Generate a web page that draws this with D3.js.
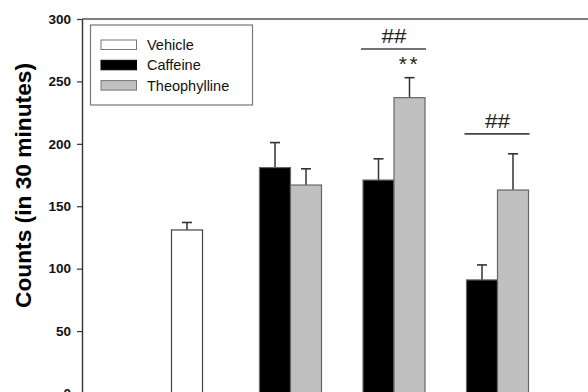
<!DOCTYPE html>
<html>
<head>
<meta charset="utf-8">
<script src="https://cdnjs.cloudflare.com/ajax/libs/d3/7.8.5/d3.min.js"></script>
<style>
  html, body { margin: 0; padding: 0; background: #fff; }
  svg { display: block; font-family: Arial, "Liberation Sans", sans-serif; }
</style>
</head>
<body>
<script>
// data
var groups = [1, 2, 3, 4];
var vehicle = [131, null, null, null];
var vehicleErr = [6, null, null, null];
var caffeine = [null, 181, 171, 91];
var caffeineErr = [null, 20, 17, 12];
var theophylline = [null, 167, 237, 163];
var theophyllineErr = [null, 13, 16, 29];
var yTicks = [0, 50, 100, 150, 200, 250, 300];
var seriesNames = ["Vehicle", "Caffeine", "Theophylline"];
var seriesColors = ["#ffffff", "#000000", "#c0c0c0"];
// significance marks: group, y value, text, line?
var marks = [
  { group: 3, value: 276, text: "##", line: true },
  { group: 3.15, value: 268, text: "**", line: false },
  { group: 4, value: 208, text: "##", line: true }
];

var width = 588, height = 392;
var svg = d3.select("body").append("svg")
    .attr("width", width).attr("height", height);

var y = d3.scaleLinear().domain([0, 300]).range([393.5, 19]);
var x = d3.scaleLinear().domain([1, 4]).range([187, 497.5]);
var barW = 31;
var axisX = 82;

// frame: left axis line + top line
svg.append("line")
  .attr("x1", axisX).attr("x2", width)
  .attr("y1", y(300)).attr("y2", y(300))
  .attr("stroke", "#555").attr("stroke-width", 1.6);

var yAxis = d3.axisLeft(y).tickValues(yTicks).tickSize(5).tickSizeOuter(0).tickPadding(6);
var gy = svg.append("g")
  .attr("transform", "translate(" + axisX + ",0)")
  .call(yAxis);
gy.select(".domain").attr("stroke", "#333").attr("stroke-width", 1.4);
gy.selectAll(".tick line").attr("stroke", "#333").attr("stroke-width", 1.2);
gy.selectAll(".tick text")
  .attr("font-size", 13.5).attr("font-weight", "bold").attr("fill", "#111")
  .attr("font-family", "Arial, 'Liberation Sans', sans-serif");

svg.append("text")
  .attr("transform", "translate(31," + 185.5 + ") rotate(-90)")
  .attr("text-anchor", "middle")
  .attr("font-size", 21.5).attr("font-weight", "bold")
  .attr("textLength", 245).attr("lengthAdjust", "spacingAndGlyphs")
  .text("Counts (in 30 minutes)");

// build bar rows
var bars = [];
groups.forEach(function(g, i) {
  if (vehicle[i] != null) bars.push({ x: x(g) - barW / 2, v: vehicle[i], e: vehicleErr[i], s: 0 });
  if (caffeine[i] != null) bars.push({ x: x(g) - barW, v: caffeine[i], e: caffeineErr[i], s: 1 });
  if (theophylline[i] != null) bars.push({ x: x(g), v: theophylline[i], e: theophyllineErr[i], s: 2 });
});

// error bars (upper only)
var eb = svg.selectAll("g.err").data(bars).enter().append("g").attr("class", "err");
eb.append("line")
  .attr("x1", function(d) { return d.x + barW / 2; })
  .attr("x2", function(d) { return d.x + barW / 2; })
  .attr("y1", function(d) { return y(d.v); })
  .attr("y2", function(d) { return y(d.v + d.e); })
  .attr("stroke", "#333").attr("stroke-width", 1.5);
eb.append("line")
  .attr("x1", function(d) { return d.x + barW / 2 - 5; })
  .attr("x2", function(d) { return d.x + barW / 2 + 5; })
  .attr("y1", function(d) { return y(d.v + d.e); })
  .attr("y2", function(d) { return y(d.v + d.e); })
  .attr("stroke", "#333").attr("stroke-width", 1.6);

svg.selectAll("rect.bar").data(bars).enter().append("rect")
  .attr("class", "bar")
  .attr("x", function(d) { return d.x; })
  .attr("y", function(d) { return y(d.v); })
  .attr("width", barW)
  .attr("height", function(d) { return y(0) - y(d.v); })
  .attr("fill", function(d) { return seriesColors[d.s]; })
  .attr("stroke", function(d) { return d.s == 0 ? "#444" : "#666"; })
  .attr("stroke-width", 1.2);

// significance marks
marks.forEach(function(m) {
  if (m.line) {
    svg.append("line")
      .attr("x1", x(m.group) - 33).attr("x2", x(m.group) + 32)
      .attr("y1", y(m.value)).attr("y2", y(m.value))
      .attr("stroke", "#444").attr("stroke-width", 1.6);
    svg.append("text")
      .attr("x", x(m.group)).attr("y", y(m.value) - 6)
      .attr("text-anchor", "middle")
      .attr("font-size", 20).attr("fill", "#222")
      .attr("textLength", 25).attr("lengthAdjust", "spacingAndGlyphs")
      .text(m.text);
  } else {
    svg.append("text")
      .attr("x", x(m.group)).attr("y", y(m.value) + 12)
      .attr("text-anchor", "middle")
      .attr("font-size", 21).attr("fill", "#222")
      .attr("letter-spacing", 2.5)
      .text(m.text);
  }
});

// legend
var legend = svg.append("g");
legend.append("rect")
  .attr("x", 90.5).attr("y", 25).attr("width", 162).attr("height", 80)
  .attr("fill", "#fff").attr("stroke", "#777").attr("stroke-width", 1.2);
seriesNames.forEach(function(name, i) {
  legend.append("rect")
    .attr("x", 101).attr("y", 40 + i * 20.3).attr("width", 35.5).attr("height", 9.5)
    .attr("fill", seriesColors[i]).attr("stroke", i == 1 ? "#000" : "#777").attr("stroke-width", 1);
  legend.append("text")
    .attr("x", 147).attr("y", 45 + i * 20.3).attr("dy", "0.35em")
    .attr("font-size", 14.5).attr("fill", "#111")
    .text(name);
});
</script>
</body>
</html>
